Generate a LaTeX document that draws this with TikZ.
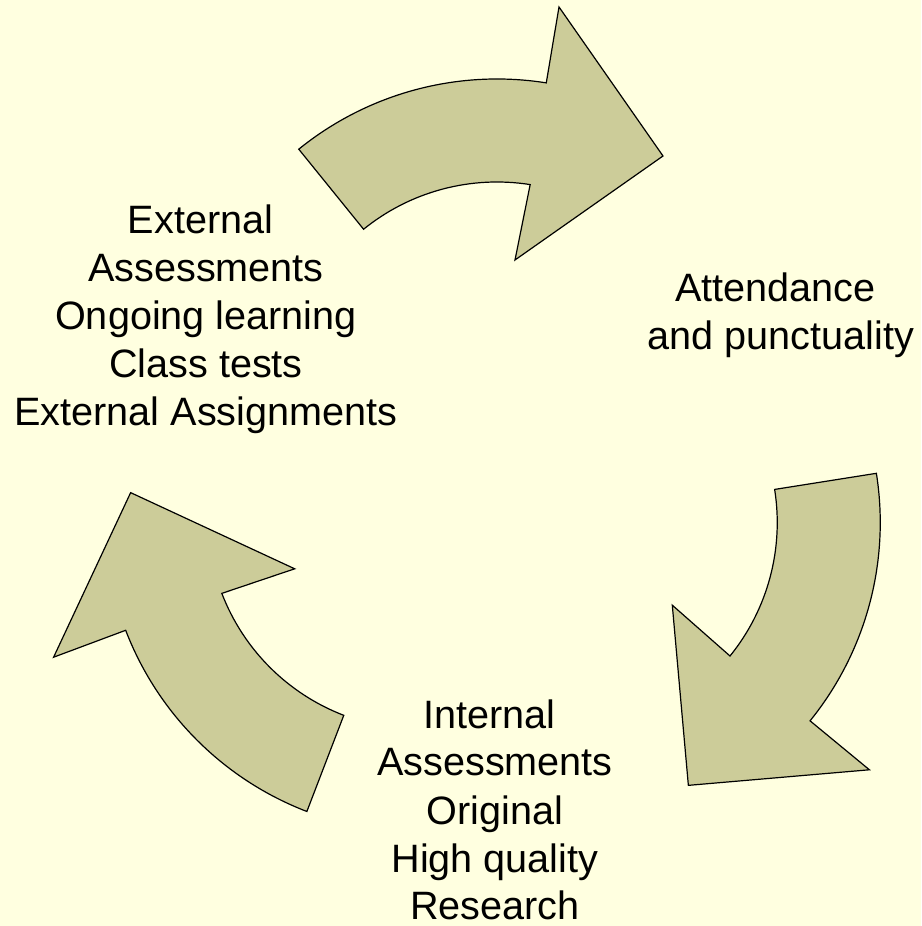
\documentclass[tikz,border=0pt]{standalone}
\usepackage{fontspec}
\setmainfont{Liberation Sans}
\definecolor{paper}{RGB}{255,255,224}
\definecolor{khaki}{RGB}{204,204,153}
\tikzset{arrowbody/.style={draw=black, line width=0.6pt, fill=khaki, line join=miter},
         cycletext/.style={anchor=base, align=center, inner sep=0pt, font=\fontsize{19.8}{24}\selectfont}}
\begin{document}
\begin{tikzpicture}[x=0.5pt,y=0.5pt]
\fill[paper] (0,0) rectangle (921,926);

% the same curved arrow, turned round the middle three times
\draw[arrowbody, shift={(494,448)}, rotate=0, shift={(3,84)}]
  (129:315) arc[start angle=129, end angle=81, radius=315] -- (62,387) -- (166,238) -- (18,134)
  -- (81:212) arc[start angle=81, end angle=129, radius=212] -- cycle;
\draw[arrowbody, shift={(494,448)}, rotate=-120, shift={(3,84)}]
  (129:315) arc[start angle=129, end angle=81, radius=315] -- (62,387) -- (166,238) -- (18,134)
  -- (81:212) arc[start angle=81, end angle=129, radius=212] -- cycle;
\draw[arrowbody, shift={(494,448)}, rotate=-240, shift={(3,84)}]
  (129:315) arc[start angle=129, end angle=81, radius=315] -- (62,387) -- (166,238) -- (18,134)
  -- (81:212) arc[start angle=81, end angle=129, radius=212] -- cycle;

% base anchor sits on the last line
\node[cycletext] (external) at (206,500) {External\hspace*{.28em}\\Assessments\\Ongoing learning\\Class tests\\External Assignments};
\node[cycletext] (attendance) at (781,576) {Attendance\hspace*{.28em}\\and punctuality};
\node[cycletext] (internal) at (495,6) {Internal\hspace*{.28em}\\Assessments\\Original\\High quality\\Research};
\end{tikzpicture}
\end{document}
